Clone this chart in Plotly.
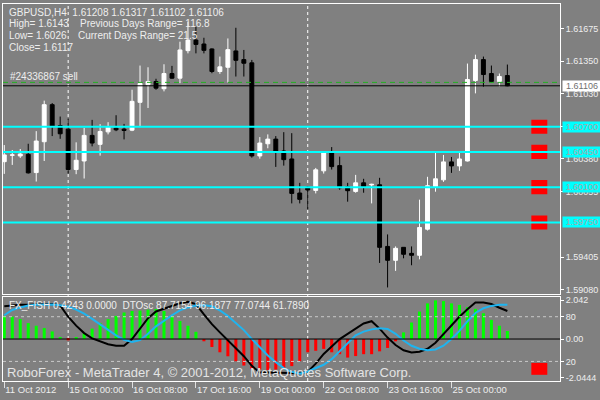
import plotly.graph_objects as go
import pandas as pd

# H4 bars, weekends skipped
bar_times = [t for t in pd.date_range('2012-10-11 16:00', '2012-10-26 04:00', freq='4h') if t.dayofweek < 5]

open_ = [1.60353, 1.60417, 1.60410, 1.60426, 1.60245, 1.60551, 1.60919, 1.60712, 1.60676, 1.60275,
         1.60360, 1.60614, 1.60525, 1.60649, 1.60686, 1.60676, 1.60666, 1.60942, 1.61117, 1.61149,
         1.61077, 1.61228, 1.61182, 1.61455, 1.61560, 1.61521, 1.61472, 1.61248, 1.61290, 1.61452,
         1.61366, 1.61334, 1.60410, 1.60531, 1.60577, 1.60459, 1.60380, 1.60042, 1.60101, 1.60068,
         1.60262, 1.60439, 1.60314, 1.60104, 1.60058, 1.60143, 1.60122, 1.60124, 1.59512, 1.59374,
         1.59503, 1.59443, 1.59424, 1.59683, 1.60104, 1.60173, 1.60351, 1.60311, 1.60360, 1.61159,
         1.61366, 1.61228, 1.61149, 1.61208]
high = [1.60518, 1.60469, 1.60479, 1.60531, 1.60656, 1.60959, 1.60935, 1.60801, 1.60781, 1.60545,
        1.60689, 1.60768, 1.60725, 1.60745, 1.60814, 1.60728, 1.61067, 1.61307, 1.61290, 1.61176,
        1.61320, 1.61304, 1.61544, 1.61741, 1.61691, 1.61583, 1.61478, 1.61396, 1.61576, 1.61682,
        1.61462, 1.61363, 1.60597, 1.60624, 1.60607, 1.60646, 1.60636, 1.60143, 1.60111, 1.60291,
        1.60459, 1.60498, 1.60403, 1.60143, 1.60222, 1.60183, 1.60134, 1.60193, 1.59631, 1.59512,
        1.59505, 1.59512, 1.59976, 1.60203, 1.60459, 1.60420, 1.60400, 1.60449, 1.61327, 1.61415,
        1.61396, 1.61307, 1.61228, 1.61317]
low = [1.60232, 1.60321, 1.60390, 1.60235, 1.60156, 1.60360, 1.60607, 1.60580, 1.60235, 1.60229,
       1.60186, 1.60505, 1.60413, 1.60624, 1.60656, 1.60574, 1.60656, 1.60696, 1.60886, 1.61067,
       1.61051, 1.61176, 1.61132, 1.61428, 1.61428, 1.61428, 1.61231, 1.61225, 1.61139, 1.61198,
       1.61198, 1.60393, 1.60383, 1.60486, 1.60301, 1.60314, 1.59939, 1.59939, 1.59880, 1.60038,
       1.60235, 1.60275, 1.60074, 1.59956, 1.60045, 1.60045, 1.59939, 1.59348, 1.59105, 1.59269,
       1.59394, 1.59325, 1.59384, 1.59670, 1.60055, 1.60153, 1.60242, 1.60262, 1.60355, 1.61031,
       1.61097, 1.61139, 1.61100, 1.61102]
close = [1.60420, 1.60420, 1.60429, 1.60242, 1.60558, 1.60919, 1.60705, 1.60630, 1.60275, 1.60367,
         1.60614, 1.60538, 1.60653, 1.60696, 1.60669, 1.60663, 1.60952, 1.61129, 1.61149, 1.61083,
         1.61228, 1.61182, 1.61462, 1.61560, 1.61517, 1.61458, 1.61248, 1.61294, 1.61465, 1.61359,
         1.61330, 1.60410, 1.60538, 1.60577, 1.60452, 1.60373, 1.60038, 1.59979, 1.60072, 1.60272,
         1.60439, 1.60304, 1.60094, 1.60065, 1.60143, 1.60104, 1.60128, 1.59503, 1.59374, 1.59493,
         1.59434, 1.59424, 1.59700, 1.60114, 1.60183, 1.60351, 1.60311, 1.60380, 1.61169, 1.61366,
         1.61218, 1.61149, 1.61198, 1.61106]

# FX_FISH histogram
fisher = [1.22, 1.18, 1.05, 0.84, 0.70, 0.58, 0.40, 0.08, -0.07, 0.10,
          0.30, 0.55, 0.85, 1.05, 1.22, 1.40, 1.48, 1.50, 1.55, 1.58,
          1.48, 1.25, 0.95, 0.70, 0.38, -0.12, -0.42, -0.70, -0.91, -1.17,
          -1.40, -1.57, -1.61, -1.64, -1.61, -1.55, -1.43, -1.17, -0.70, -0.62,
          -0.52, -0.70, -0.80, -0.98, -0.90, -0.80, -0.80, -0.65, -0.47, -0.12,
          0.35, 0.87, 1.45, 1.88, 2.04, 2.00, 1.88, 1.80, 1.68, 1.59,
          1.36, 1.01, 0.70, 0.4243]
# DTOsc lines
dto_fast = [94, 95, 96, 96, 96, 97, 97, 95, 80, 68,
            58, 51, 47, 43, 41, 41, 50, 64, 78, 87,
            91, 95, 98, 100, 97, 83, 70, 59, 48, 37,
            27, 14, 5, 5, 5, 5, 5, 4, 6, 17,
            30, 40, 50, 57, 64, 71, 74, 64, 52, 42,
            35, 32, 33, 37, 45, 57, 69, 80, 90, 99,
            99, 97, 92, 87.7154]
dto_slow = [82, 89, 92.5, 95, 96, 96.7, 96.5, 95.5, 93.5, 89.5,
            84, 77, 69.5, 62.5, 55, 49, 46.2, 48.5, 57, 67,
            75, 82, 88.5, 92.5, 95, 95.5, 94, 88.5, 81, 72,
            62, 50, 39, 28, 19, 11, 6, 3.5, 6.5, 10.5,
            15.5, 23, 34, 45, 55, 60, 63, 64.5, 63.5, 57,
            48, 41, 37, 35, 36, 41, 50, 61, 74, 85,
            91.3, 94.5, 96, 96.2]

levels = [1.60700, 1.60450, 1.60100, 1.59750]
bid = 1.61106
order_price = 1.61140
dto_levels = [80, 20]
price_ticks = [1.61675, 1.61350, 1.61030, 1.60700, 1.60380, 1.60055, 1.59405, 1.59080]
fisher_ticks = [2.042, 0, -2.0444]
fisher_tick_text = ['2.042', '0.00', '-2.0444']

header_lines = ['GBPUSD,H4  1.61208 1.61317 1.61102 1.61106', 'High= 1.6143', 'Low= 1.6026', 'Close= 1.6117']
range_lines = ['Previous Days Range= 116.8', 'Current Days Range= 21.5']
ind_title = 'FX_FISH 0.4243 0.0000  DTOsc 87.7154 96.1877 77.0744 61.7890'
watermark = 'RoboForex - MetaTrader 4, \u00a9 2001-2012, MetaQuotes Software Corp.'

BG = '#808080'
TXT = '#EEEEEE'
FONT = 'Liberation Sans'

idx = list(range(len(bar_times)))
tick_idx = idx[::8]
tick_text = ['11 Oct 2012' if i == 0 else bar_times[i].strftime('%d %b %H:%M') for i in tick_idx]
week_starts = [i for i, t in enumerate(bar_times) if t.dayofweek == 0 and t.hour == 0]

fig = go.Figure()
fig.add_trace(go.Candlestick(
    x=idx, open=open_, high=high, low=low, close=close,
    increasing=dict(line=dict(color='white', width=1), fillcolor='white'),
    decreasing=dict(line=dict(color='black', width=1), fillcolor='black'),
    whiskerwidth=0, xaxis='x', yaxis='y', hoverinfo='skip'))
fig.add_trace(go.Bar(
    x=idx, y=fisher, width=0.38, xaxis='x2', yaxis='y2',
    marker=dict(color=['#00FF00' if v >= 0 else '#FF0000' for v in fisher], line=dict(width=0))))
fig.add_trace(go.Scatter(x=idx, y=dto_fast, mode='lines', line=dict(color='black', width=2),
                         xaxis='x2', yaxis='y3'))
fig.add_trace(go.Scatter(x=idx, y=dto_slow, mode='lines', line=dict(color='#1EB4F0', width=2),
                         xaxis='x2', yaxis='y3'))

shapes = []
for i in week_starts:
    shapes.append(dict(type='line', xref='x', yref='paper', x0=i, x1=i, y0=0, y1=1, layer='below',
                       line=dict(color='white', width=1, dash='3px,3px')))
for lvl in levels:
    shapes.append(dict(type='rect', xref='x', yref='y', x0=66, x1=68, y0=lvl - 0.0007, y1=lvl + 0.0007,
                       fillcolor='#FF0000', line=dict(width=0)))
for lvl in levels:
    shapes.append(dict(type='line', xref='x domain', yref='y', x0=0, x1=1, y0=lvl, y1=lvl,
                       line=dict(color='#00FFFF', width=2)))
shapes.append(dict(type='line', xref='x domain', yref='y', x0=0, x1=1, y0=order_price, y1=order_price,
                   line=dict(color='#22B022', width=1, dash='5px,4px')))
shapes.append(dict(type='line', xref='x domain', yref='y', x0=0, x1=1, y0=bid, y1=bid,
                   line=dict(color='black', width=1)))
for lv in dto_levels:
    shapes.append(dict(type='line', xref='x2 domain', yref='y3', x0=0, x1=1, y0=lv, y1=lv,
                       line=dict(color='#C8C8C8', width=1, dash='3px,3px')))
shapes.append(dict(type='rect', xref='x2', yref='y3', x0=66, x1=68, y0=2, y1=18,
                   fillcolor='#FF0000', line=dict(width=0)))
shapes.append(dict(type='line', xref='x2 domain', yref='y2', x0=0, x1=1, y0=0, y1=0,
                   line=dict(color='black', width=1)))

ann = []
for k, t in enumerate(header_lines):
    ann.append(dict(text=t, xref='x domain', yref='y domain', x=0, y=1, xanchor='left', yanchor='middle',
                    xshift=4, yshift=-8 - 11.7 * k, showarrow=False, font=dict(size=10, color=TXT)))
for k, t in enumerate(range_lines):
    ann.append(dict(text=t, xref='x domain', yref='y domain', x=0, y=1, xanchor='left', yanchor='middle',
                    xshift=75 - 2 * k, yshift=-19.7 - 11.7 * k, showarrow=False, font=dict(size=10, color=TXT)))
ann.append(dict(text='#24336867 sell', xref='x domain', yref='y', x=0, y=order_price, xanchor='left',
                yanchor='bottom', xshift=5, yshift=-2, showarrow=False, font=dict(size=10, color=TXT)))
for lvl in levels:
    ann.append(dict(text=f'{lvl:.5f}', xref='paper', yref='y', x=1, y=lvl, xanchor='left', yanchor='middle',
                    xshift=2, showarrow=False, bgcolor='#00FFFF', borderpad=0, width=38, height=10,
                    align='center', font=dict(size=9, color='#A8A8A8')))
ann.append(dict(text=f'{bid:.5f}', xref='paper', yref='y', x=1, y=bid, xanchor='left', yanchor='middle',
                xshift=2, showarrow=False, bgcolor='white', borderpad=0, width=38, height=10,
                align='center', font=dict(size=9, color='#707070')))
ann.append(dict(text=ind_title, xref='x2 domain', yref='y2 domain', x=0, y=1, xanchor='left', yanchor='middle',
                xshift=4, yshift=-8, showarrow=False, font=dict(size=10, color=TXT)))
ann.append(dict(text=watermark, xref='x2 domain', yref='y2 domain', x=0, y=0, xanchor='left', yanchor='bottom',
                xshift=2, yshift=-1, showarrow=False, font=dict(size=13, color='#E4E4E4')))

axis_common = dict(showgrid=False, zeroline=False, showline=True, mirror=True, linecolor='white', linewidth=1)

fig.update_layout(
    width=600, height=400,
    margin=dict(l=2, r=40, t=2, b=18.5),
    paper_bgcolor=BG, plot_bgcolor='rgba(0,0,0,0)',
    font=dict(family=FONT, size=9, color=TXT),
    showlegend=False, hovermode=False,
    shapes=shapes, annotations=ann,
    xaxis=dict(domain=[0, 1], anchor='y', range=[-0.16, 69.59], showticklabels=False,
               rangeslider=dict(visible=False), **axis_common),
    yaxis=dict(domain=[0.2319, 1], anchor='x', side='right', range=[1.59044, 1.61918],
               tickvals=price_ticks, tickformat='.5f', ticks='outside', ticklen=3, tickcolor='white',
               **axis_common),
    xaxis2=dict(domain=[0, 1], anchor='y2', matches='x', tickvals=tick_idx, ticktext=tick_text,
                ticks='outside', ticklen=6, tickcolor='#E0E0E0', ticklabelposition='outside right',
                tickfont=dict(size=9.5, color=TXT), **axis_common),
    yaxis2=dict(domain=[0, 0.2227], anchor='x2', side='right', range=[-2.215, 2.215],
                tickvals=fisher_ticks, ticktext=fisher_tick_text, ticks='outside', ticklen=3,
                tickcolor='white', **axis_common),
    yaxis3=dict(overlaying='y2', anchor='x2', side='right', range=[-6.3, 106.4], tickvals=dto_levels,
                ticks='outside', ticklen=3, tickcolor='white', showgrid=False, zeroline=False, showline=False),
)

# drop the browser's default body margin so the 600x400 figure fills the window
fig.write_html('out.html', config={'displayModeBar': False},
               post_script="document.body.style.margin='0px';")
